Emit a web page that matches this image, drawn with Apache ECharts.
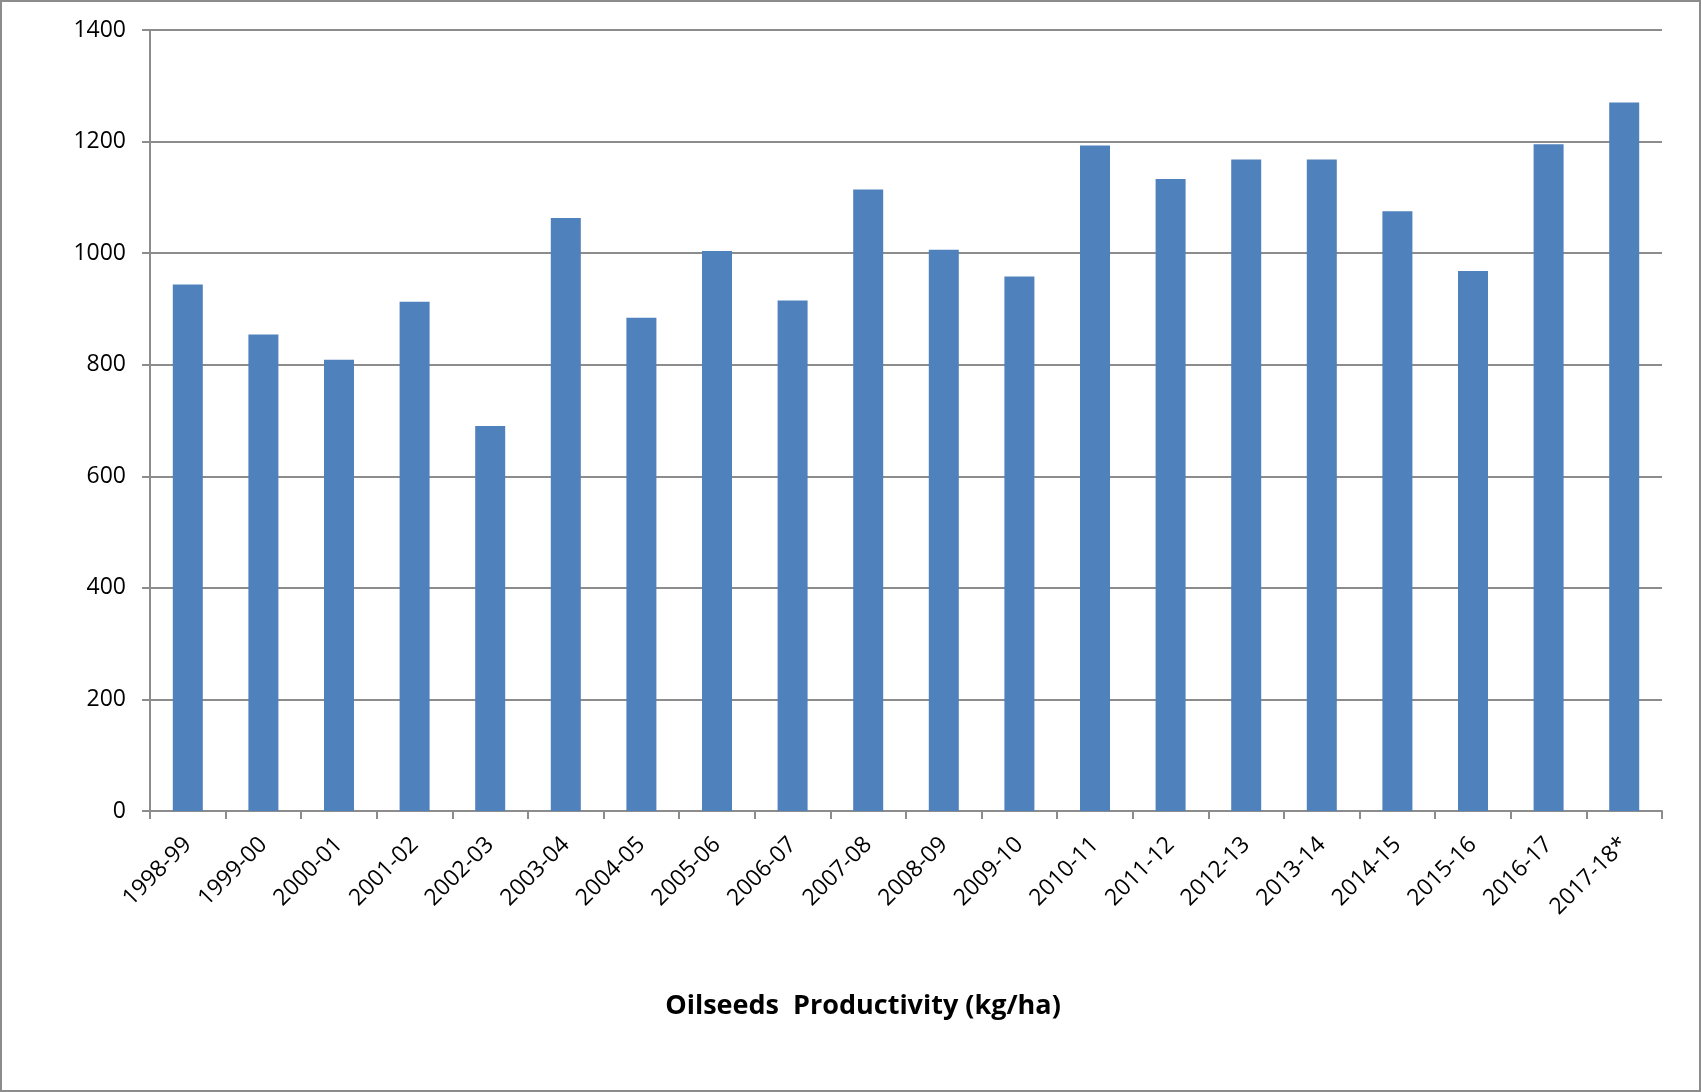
<!DOCTYPE html>
<html>
<head>
<meta charset="utf-8">
<script src="https://cdn.jsdelivr.net/npm/echarts@6/dist/echarts.min.js"></script>
<style>
  html, body { margin: 0; padding: 0; background: #fff; }
  #frame { position: absolute; left: 0; top: 0; width: 1701px; height: 1092px; box-sizing: border-box; border: 2px solid #8c8c8c; }
  #chart { position: absolute; left: 0; top: 0; width: 1701px; height: 1092px; }
</style>
</head>
<body>
<div id="chart"></div>
<div id="frame"></div>
<script>
const categories = ['1998-99','1999-00','2000-01','2001-02','2002-03','2003-04','2004-05','2005-06','2006-07','2007-08','2008-09','2009-10','2010-11','2011-12','2012-13','2013-14','2014-15','2015-16','2016-17','2017-18*'];
const productivity = [944, 854, 809, 913, 690, 1063, 884, 1004, 915, 1114, 1006, 958, 1193, 1133, 1168, 1168, 1075, 968, 1195, 1270];
const yTicks = { min: 0, max: 1400, interval: 200 };
const titleText = 'Oilseeds  Productivity (kg/ha)';

const chart = echarts.init(document.getElementById('chart'), null, { renderer: 'canvas' });
const fontFamily = '"Open Sans", "Noto Sans", sans-serif';
chart.setOption({
  animation: false,
  backgroundColor: '#ffffff',
  title: {
    text: titleText,
    left: 858,
    textAlign: 'center',
    top: 988,
    textStyle: { fontFamily: fontFamily, fontWeight: 'bold', fontSize: 27, color: '#000' }
  },
  grid: { left: 150, right: 39, top: 30, bottom: 281, containLabel: false },
  xAxis: {
    type: 'category',
    data: categories,
    boundaryGap: true,
    axisLine: { show: true, lineStyle: { color: '#8c8c8c', width: 2 } },
    axisTick: { show: true, alignWithLabel: false, length: 8, lineStyle: { color: '#8c8c8c', width: 2 } },
    axisLabel: { rotate: 45, margin: 30, interval: 0, fontFamily: fontFamily, fontSize: 23, color: '#000' },
    splitLine: { show: false }
  },
  yAxis: {
    type: 'value',
    min: yTicks.min,
    max: yTicks.max,
    interval: yTicks.interval,
    axisLine: { show: true, lineStyle: { color: '#8c8c8c', width: 2 } },
    axisTick: { show: true, length: 8, lineStyle: { color: '#8c8c8c', width: 2 } },
    axisLabel: { margin: 24, fontFamily: fontFamily, fontSize: 23, color: '#000', formatter: function (v) { return String(v); } },
    splitLine: { show: true, lineStyle: { color: '#8c8c8c', width: 2 } }
  },
  series: [{
    type: 'bar',
    data: productivity,
    barWidth: 30,
    itemStyle: { color: '#4f81bd' }
  }]
});
</script>
</body>
</html>
